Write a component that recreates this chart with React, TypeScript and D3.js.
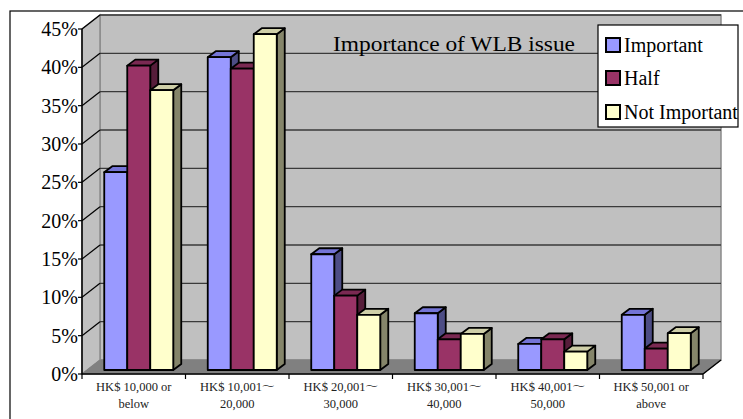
import React from "react";
import * as d3 from "d3";

const categoryLine1 = ["HK$ 10,000 or", "HK$ 10,001～", "HK$ 20,001～", "HK$ 30,001～", "HK$ 40,001～", "HK$ 50,001 or"];
const categoryLine2 = ["below", "20,000", "30,000", "40,000", "50,000", "above"];
const seriesNames = ["Important", "Half", "Not Important"];
const importantValues = [25.8, 40.8, 15.1, 7.4, 3.4, 7.2];
const halfValues = [39.7, 39.3, 9.7, 4.0, 4.0, 2.8];
const notImportantValues = [36.5, 43.8, 7.2, 4.7, 2.4, 4.8];
const yTicks = [0, 5, 10, 15, 20, 25, 30, 35, 40, 45];
const title = "Importance of WLB issue";

const seriesValues = [importantValues, halfValues, notImportantValues];
const colors = [
  { front: "#9999FF", top: "#7474d6", side: "#4d4d85" },
  { front: "#993366", top: "#7a2952", side: "#561d3a" },
  { front: "#FFFFCC", top: "#cfcfa8", side: "#85856a" },
];

const FONT = "'Liberation Serif', 'Noto Serif CJK TC', 'Noto Sans CJK TC', serif";

export default function App() {
  const W = 743, H = 419;
  const X0 = 82, X1 = 703, YB = 374, YT = 29;
  const DX = 18, DY = 14;
  const BOX = 5, BOY = 4; // bar front offset into depth
  const BDX = 8, BDY = 6; // bar depth

  const y = d3.scaleLinear().domain([0, 45]).range([YB, YT]);
  const idx = categoryLine1.map((_, i) => String(i));
  const x0 = d3.scaleBand().domain(idx).range([X0, X1]).paddingInner(1 / 3).paddingOuter(1 / 6);
  const x1 = d3.scaleBand().domain(seriesNames).range([0, x0.bandwidth()]).padding(0);
  const bw = x1.bandwidth();

  const bars: JSX.Element[] = [];
  idx.forEach((c, ci) => {
    seriesNames.forEach((s, si) => {
      const v = seriesValues[si][ci];
      const xl = (x0(c) as number) + (x1(s) as number) + BOX;
      const xr = xl + bw;
      const yt = y(v) - BOY;
      const yb = y(0) - BOY;
      const col = colors[si];
      const top = `${xl},${yt} ${xl + BDX},${yt - BDY} ${xr + BDX},${yt - BDY} ${xr},${yt}`;
      const side = `${xr},${yt} ${xr + BDX},${yt - BDY} ${xr + BDX},${yb - BDY} ${xr},${yb}`;
      bars.push(
        <g key={`${ci}-${si}`} stroke="#000" strokeWidth={1.8} strokeLinejoin="round">
          <polygon points={side} fill={col.side} />
          <polygon points={top} fill={col.top} />
          <rect x={xl} y={yt} width={bw} height={yb - yt} fill={col.front} />
        </g>
      );
    });
  });

  const legendY = [45, 78, 112];

  return (
    <svg width={W} height={H} style={{ position: "absolute", left: 0, top: 0, background: "#fff" }}>
      {/* chart area border */}
      <rect x={10} y={11} width={800} height={500} fill="#fff" stroke="#000" strokeWidth={1.2} />
      {/* back wall */}
      <rect x={X0 + DX} y={YT - DY} width={X1 - X0} height={YB - YT} fill="#c0c0c0" stroke="#8a8a8a" strokeWidth={1.5} />
      {/* side wall */}
      <polygon points={`${X0},${YB} ${X0},${YT} ${X0 + DX},${YT - DY} ${X0 + DX},${YB - DY}`} fill="#c0c0c0" stroke="#8a8a8a" strokeWidth={1.5} />
      {/* floor */}
      <polygon points={`${X0},${YB} ${X1},${YB} ${X1 + DX},${YB - DY} ${X0 + DX},${YB - DY}`} fill="#808080" stroke="#808080" strokeWidth={1} />
      {/* gridlines */}
      {yTicks.filter((t) => t > 0).map((t) => (
        <g key={t}>
          <line x1={X0 + DX} x2={X1 + DX} y1={y(t) - DY} y2={y(t) - DY} stroke="#3a3a3a" strokeWidth={1.3} />
          <line x1={X0} x2={X0 + DX} y1={y(t)} y2={y(t) - DY} stroke="#000" strokeWidth={1.2} />
        </g>
      ))}
      {/* y axis */}
      <line x1={X0} x2={X0} y1={YT} y2={YB} stroke="#000" strokeWidth={1.5} />
      {yTicks.map((t) => (
        <g key={t}>
          <line x1={X0 - 4} x2={X0} y1={y(t)} y2={y(t)} stroke="#000" strokeWidth={1.2} />
          <text x={X0 - 4} y={y(t) + 7} textAnchor="end" fontFamily={FONT} fontSize={20} fill="#000">{t}%</text>
        </g>
      ))}
      {/* x axis */}
      <line x1={X0} x2={X1} y1={YB} y2={YB} stroke="#000" strokeWidth={1.5} />
      <line x1={X1} x2={X1 + DX} y1={YB} y2={YB - DY} stroke="#000" strokeWidth={1.5} />
      {d3.range(idx.length + 1).map((i) => {
        const xx = X0 + (i * (X1 - X0)) / idx.length;
        return <line key={i} x1={xx} x2={xx} y1={YB} y2={YB + 5} stroke="#000" strokeWidth={1.2} />;
      })}
      {bars}
      {/* category labels */}
      {idx.map((c, i) => {
        const cx = (x0(c) as number) + x0.bandwidth() / 2;
        return (
          <g key={c} fontFamily={FONT} fontSize={12.5} fill="#222" textAnchor="middle">
            <text x={cx} y={391}>{categoryLine1[i]}</text>
            <text x={cx} y={408}>{categoryLine2[i]}</text>
          </g>
        );
      })}
      {/* title */}
      <text x={333} y={51} fontFamily={FONT} fontSize={21} textLength={242} lengthAdjust="spacingAndGlyphs" fill="#000">{title}</text>
      {/* legend */}
      <rect x={598} y={25} width={140} height={102} fill="#fff" stroke="#000" strokeWidth={1.2} />
      {seriesNames.map((s, i) => (
        <g key={s}>
          <rect x={606} y={legendY[i] - 7} width={14} height={14} fill={colors[i].front} stroke="#000" strokeWidth={2} />
          <text x={624} y={legendY[i] + 7} fontFamily={FONT} fontSize={20} fill="#000">{s}</text>
        </g>
      ))}
    </svg>
  );
}
